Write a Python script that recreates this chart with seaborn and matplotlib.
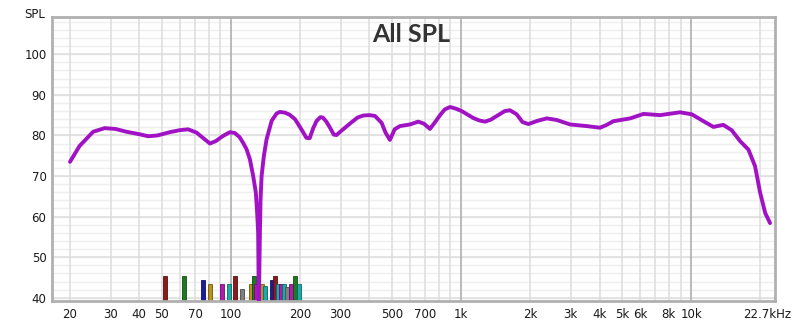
import numpy as np
import pandas as pd
import matplotlib
matplotlib.use("Agg")
import matplotlib.pyplot as plt
import matplotlib.transforms as mtransforms
from matplotlib.ticker import FixedLocator, NullFormatter
import seaborn as sns

# ---- data ----
freq_hz = [20, 22, 25.2, 28.3, 31.5, 35.2, 40, 43.7, 48, 54.3, 60, 65.2, 70.9, 76, 81.1,
           86, 92, 99, 104, 109,
           113, 117, 121, 125, 128.4, 130.1, 131.4, 132.3, 133.7, 134.6, 136.0,
           139.1, 142.9, 150.4, 158, 163.4, 172, 180, 190, 198, 206, 213, 220, 228, 236,
           245, 251, 260, 269, 280, 288, 300, 329, 355, 376, 400, 423, 452, 470, 491, 515,
           543, 600, 652, 690, 733, 770, 811, 850, 896, 950, 1007,
           1130, 1200, 1271, 1350, 1450, 1550, 1633, 1746, 1850, 1963, 2150, 2360, 2609,
           2980, 3520, 4020, 4300,
           4590, 5440, 6210, 7330, 8950, 10070, 11320, 12500, 13800, 15000,
           16330, 17750, 18970, 19950, 20990, 22030]
spl_db = [73.5, 77.4, 80.9, 81.8, 81.6, 80.9, 80.3, 79.8, 80.0, 80.8, 81.3, 81.5, 80.7,
          79.3, 78.0, 78.6, 79.8, 80.8, 80.6, 79.6,
          78.2, 76.6, 74.1, 70.0, 65.9, 60.9, 56.0, 38.0, 56.0, 64.2, 70.0,
          74.9, 79.0, 83.6, 85.4, 85.8, 85.6, 85.1, 84.0, 82.4, 80.8, 79.4, 79.3, 81.8, 83.6,
          84.5, 84.4, 83.4, 82.0, 80.2, 80.1, 81.0, 82.9, 84.4, 84.9, 85.0, 84.8, 83.1, 80.7,
          78.9, 81.5,
          82.3, 82.7, 83.4, 82.9, 81.6, 83.2, 85.0, 86.4, 87.0, 86.6, 86.0,
          84.3, 83.7, 83.4, 83.9, 85.0, 86.0, 86.2, 85.2, 83.3, 82.8, 83.6, 84.2, 83.8,
          82.7, 82.3, 81.9, 82.6,
          83.5, 84.2, 85.3, 85.0, 85.7, 85.2, 83.5, 82.1, 82.6, 81.3,
          78.6, 76.5, 72.4, 65.9, 60.9, 58.4]

bar_freq = [51.8, 62.5, 75.8, 81.1, 91.7, 98.3, 103.8, 112, 121.8, 126, 128.5,
            136, 141, 151.6, 156, 160, 165, 170, 176, 182, 190.5, 198]
bar_top = [45.4, 45.4, 44.4, 43.5, 43.5, 43.5, 45.4, 42.1, 43.5, 45.4, 43.5,
           43.5, 43.0, 44.4, 45.4, 43.5, 43.5, 43.5, 42.6, 43.5, 45.4, 43.5]
bar_color = ["#8e1b1b", "#1f7a1f", "#1c1ca0", "#b8921c", "#b01ab0", "#1aaaaa",
             "#8e1b1b", "#7f7f7f", "#b8921c", "#1f7a1f", "#b01ab0", "#b8921c",
             "#1aaaaa", "#1c1ca0", "#8e1b1b", "#1aaaaa", "#b01ab0", "#1aaaaa",
             "#7f7f7f", "#b01ab0", "#1f7a1f", "#1aaaaa"]

xtick_vals = [20, 30, 40, 50, 70, 100, 200, 300, 500, 700, 1000, 2000, 3000,
              4000, 5000, 6000, 8000, 10000, 22700]
xtick_labels = ["20", "30", "40", "50", "70", "100", "200", "300", "500", "700",
                "1k", "2k", "3k", "4k", "5k", "6k", "8k", "10k", "22.7kHz"]
ytick_vals = [40, 50, 60, 70, 80, 90, 100]

df = pd.DataFrame({"freq": freq_hz, "spl": spl_db})

sns.set_theme(style="white")
plt.rcParams["font.family"] = ["DejaVu Sans"]

fig = plt.figure(figsize=(8, 3.24), dpi=100)
ax = fig.add_axes([0.065, 0.071, 0.904, 0.878])
ax.set_xscale("log")
ax.set_xlim(16.7, 23200)
ax.set_ylim(39.2, 109.3)

# grid
for v in np.arange(40, 110, 2):
    ax.axhline(v, color="#efefef", lw=1.0, zorder=0.1)
for v in ytick_vals:
    ax.axhline(v, color="#dedede", lw=1.1, zorder=0.2)
minor_x = [v * d for d in (10, 100, 1000) for v in range(2, 10)] + [20000]
for v in minor_x:
    ax.axvline(v, color="#dcdcdc", lw=1.1, zorder=0.3)
for v in (100, 1000, 10000):
    ax.axvline(v, color="#b4b4b4", lw=1.3, zorder=0.4)

# bars
half = 10 ** (2.0 / 230)
lefts = [f / half for f in bar_freq]
widths = [f * half - f / half for f in bar_freq]
edge = [tuple(c * 0.6 for c in matplotlib.colors.to_rgb(col)) for col in bar_color]
ax.bar(lefts, [t - 30 for t in bar_top], width=widths, bottom=30, align="edge",
       color=bar_color, edgecolor=edge, linewidth=0.6, zorder=2)

# curve
sns.lineplot(data=df, x="freq", y="spl", ax=ax, color="#a012c4", lw=2.8,
             zorder=3, sort=True)
for ln in ax.lines[-1:]:
    ln.set_solid_joinstyle("round")
    ln.set_solid_capstyle("round")

ax.set_xlabel("")
ax.set_ylabel("")
ax.xaxis.set_major_locator(FixedLocator(xtick_vals))
ax.set_xticklabels(xtick_labels)
ax.xaxis.set_minor_formatter(NullFormatter())
ax.set_yticks(ytick_vals)
ax.set_yticklabels([str(v) for v in ytick_vals])
ax.tick_params(axis="both", which="both", length=0, labelsize=8.5,
               colors="#1a1a1a", pad=4)
ax.tick_params(axis="x", pad=5)
lbl = ax.get_xticklabels()[-1]
lbl.set_transform(lbl.get_transform() +
                  mtransforms.ScaledTranslation(-6 / 100, 0, fig.dpi_scale_trans))

for s in ax.spines.values():
    s.set_color("#b0b0b0")
    s.set_linewidth(2)
    s.set_visible(True)

ax.text(0.497, 0.978, "All SPL", transform=ax.transAxes, ha="center", va="top",
        fontsize=18, fontweight="bold", color="#333333", family=["Lato", "DejaVu Sans"])
fig.text(0.043, 0.975, "SPL", ha="center", va="top", fontsize=8.5, color="#1a1a1a")

fig.savefig("out.png", dpi=100)
